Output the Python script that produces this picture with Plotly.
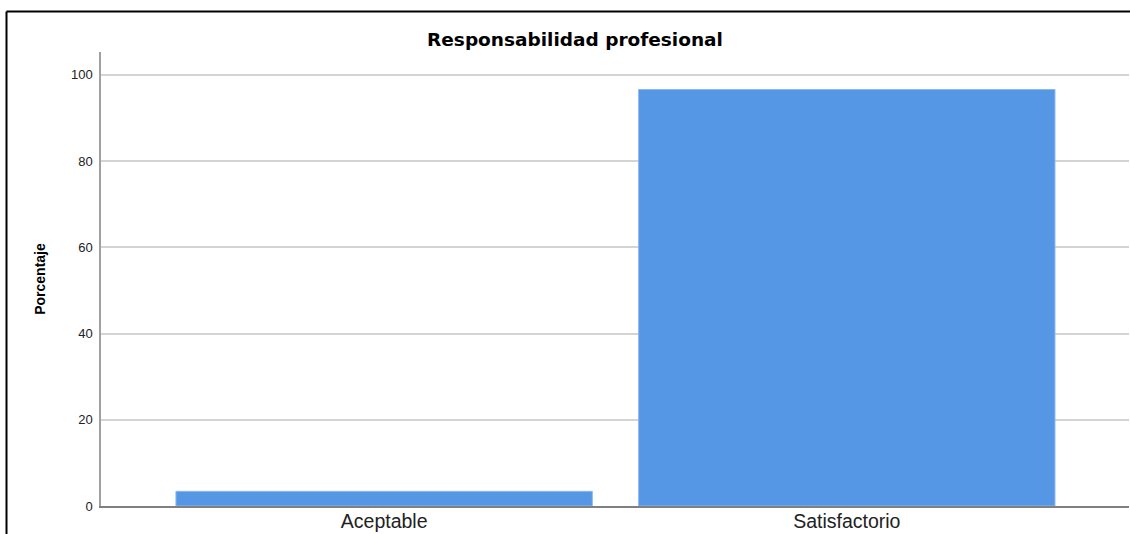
import plotly.graph_objects as go

categories = ["Aceptable", "Satisfactorio"]
values = [3.4, 96.6]
y_ticks = [0, 20, 40, 60, 80, 100]

L, R, T, B = 101, 1, 52, 28
W, H = 1130, 534
pw, ph = W - L - R, H - T - B

def px_x(px):
    return (px - L) / pw

def px_y(py):
    return (H - B - py) / ph

fig = go.Figure(go.Bar(
    x=categories, y=values, width=0.9,
    marker=dict(color="#5596E5", line=dict(color="#8DB8EE", width=1)),
))

fig.update_layout(
    width=W, height=H,
    margin=dict(l=L, r=R, t=T, b=B, pad=0),
    plot_bgcolor="white", paper_bgcolor="white",
    showlegend=False,
    font=dict(family="Liberation Sans, Arial, sans-serif", color="#222"),
    title=dict(text="<b>Responsabilidad profesional</b>", x=575 / W, xanchor="center",
               xref="container", y=1 - 40 / H, yanchor="middle",
               font=dict(family="DejaVu Sans, sans-serif", size=18.5, color="#000")),
    xaxis=dict(range=[-0.612, 1.61], showgrid=False, showline=True,
               linecolor="#808080", linewidth=1.5, ticks="",
               ticklabelstandoff=-3, automargin=False,
               tickfont=dict(size=19.5, color="#222"), fixedrange=True),
    yaxis=dict(range=[0, 105.3], tickvals=y_ticks, showgrid=True,
               gridcolor="#D4D4D4", gridwidth=1.5, zeroline=False,
               showline=True, linecolor="#A0A0A0", linewidth=1.5, ticks="",
               ticklabelstandoff=4, automargin=False,
               tickfont=dict(size=13, color="#222"),
               title=dict(text="<b>Porcentaje</b>", standoff=22,
                          font=dict(size=14, color="#000"))),
    shapes=[
        dict(type="line", xref="paper", yref="paper",
             x0=px_x(6.5), x1=px_x(1140), y0=px_y(11.5), y1=px_y(11.5),
             line=dict(color="#000", width=2)),
        dict(type="line", xref="paper", yref="paper",
             x0=px_x(6.5), x1=px_x(6.5), y0=px_y(11.5), y1=px_y(545),
             line=dict(color="#000", width=2)),
    ],
)

fig.write_html("out.html", config={"displayModeBar": False},
               post_script="document.body.style.margin='0';")
